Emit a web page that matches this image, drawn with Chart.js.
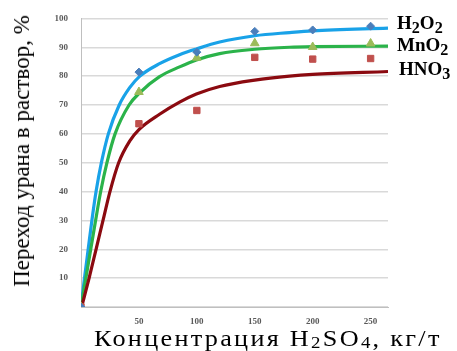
<!DOCTYPE html>
<html>
<head>
<meta charset="utf-8">
<script src="https://cdn.jsdelivr.net/npm/chart.js@4"></script>
<style>
  body { margin: 0; background: #fff; }
  #wrap { position: relative; width: 457px; height: 351px; }
  .lab { position: absolute; font-family: "Liberation Serif", serif; font-weight: bold; font-size: 19px; color: #000; white-space: nowrap; }
  .lab sub { font-size: 0.85em; vertical-align: -0.25em; line-height: 0; }
  #ytitle { position: absolute; left: 22px; top: 151px; transform: translate(-50%, -50%) rotate(-90deg);
    font-family: "Liberation Serif", serif; font-size: 23px; white-space: nowrap; color: #000; }
  #xtitle { position: absolute; left: 94px; top: 326px; font-family: "Liberation Serif", serif; font-size: 23px;
    letter-spacing: 2px; white-space: nowrap; color: #000; transform: scaleX(1.14); transform-origin: left top; }
  #xtitle sub { font-size: 0.72em; vertical-align: -0.1em; line-height: 0; }
</style>
</head>
<body>
<div id="wrap">
  <canvas id="chart" width="457" height="351"></canvas>
  <div id="ytitle">Переход урана в раствор, %</div>
  <div id="xtitle">Концентрация H<sub>2</sub>SO<sub>4</sub>, кг/т</div>
  <div class="lab" style="left:397px;top:12px">H<sub>2</sub>O<sub>2</sub></div>
  <div class="lab" style="left:397px;top:34px">MnO<sub>2</sub></div>
  <div class="lab" style="left:399px;top:58px">HNO<sub>3</sub></div>
</div>
<script>
// measured points
const doseX = [0, 50, 100, 150, 200, 250];
const h2o2 = [0, 81.4, 88.3, 95.5, 96, 97.3];
const mno2 = [0, 74.5, 86.4, 91.4, 90.1, 91.3];
const hno3 = [0, 63.5, 68.1, 86.5, 85.9, 86.1];

// trend curves
const h2o2FitX = [0, 3, 6.2, 9.4, 13, 17.6, 23.6, 33, 42, 50.6, 67.8, 85.1, 99.6, 119.7, 150, 180, 200, 265];
const h2o2FitY = [0, 10, 20, 30, 40, 50, 60, 70, 76, 79.9, 84.3, 87.4, 89.4, 91.8, 94, 95.1, 95.7, 96.6];
const mno2FitX = [0, 4.2, 8.4, 12.6, 17, 22.4, 29.4, 41.5, 50.6, 67.8, 85.1, 99.6, 119.7, 150, 180, 200, 265];
const mno2FitY = [0, 10, 20, 30, 40, 50, 60, 70, 74.2, 79.8, 83.2, 85.6, 87.8, 89.3, 90, 90.2, 90.4];
const hno3FitX = [0.5, 7, 13, 19, 25, 32.5, 42, 50, 67.8, 85.1, 99.6, 119.7, 150, 180, 200, 265];
const hno3FitY = [0, 10, 20, 30, 40, 50, 57.5, 61.5, 66.8, 71, 73.8, 76.4, 78.6, 80, 80.6, 81.6];

const yTicks = [10, 20, 30, 40, 50, 60, 70, 80, 90, 100];
const xTicks = [50, 100, 150, 200, 250];

const toXY = (xs, ys) => xs.map((x, i) => ({ x, y: ys[i] }));

const tickFont = { family: "Liberation Serif", size: 9, weight: "bold" };

function curve(xs, ys, color) {
  return {
    type: "line",
    data: toXY(xs, ys),
    borderColor: color,
    borderWidth: 3.2,
    pointRadius: 0,
    cubicInterpolationMode: "monotone",
    fill: false,
    order: 2,
  };
}

function marks(ys, color, style, r) {
  return {
    type: "scatter",
    data: toXY(doseX, ys),
    backgroundColor: color,
    borderColor: color,
    pointStyle: style,
    pointRadius: r,
    showLine: false,
    order: 1,
  };
}

new Chart(document.getElementById("chart"), {
  data: {
    datasets: [
      marks(h2o2, "#4a7ebb", "rectRot", 4),
      marks(mno2, "#9bbb59", "triangle", 5),
      marks(hno3, "#c0504d", "rect", 4.5),
      curve(hno3FitX, hno3FitY, "#8b0a10"),
      curve(mno2FitX, mno2FitY, "#2bb34a"),
      curve(h2o2FitX, h2o2FitY, "#19a2e8"),
    ],
  },
  options: {
    responsive: false,
    animation: false,
    layout: { padding: { top: 12, right: 69, left: 0, bottom: 0 } },
    plugins: { legend: { display: false }, tooltip: { enabled: false } },
    scales: {
      x: {
        type: "linear",
        min: 0,
        max: 265,
        afterBuildTicks: (s) => { s.ticks = xTicks.map((v) => ({ value: v })); },
        afterFit: (s) => { s.height = 44; },
        ticks: { font: tickFont, color: "#595959", padding: 9, maxRotation: 0 },
        grid: { display: false, drawTicks: false },
        border: { color: "#bfbfbf", width: 1 },
      },
      y: {
        min: 0,
        max: 100,
        afterBuildTicks: (s) => { s.ticks = [0].concat(yTicks).map((v) => ({ value: v })); },
        afterFit: (s) => { s.width = 81; },
        ticks: { font: tickFont, color: "#595959", padding: 13, callback: (v) => (v === 0 ? "" : v) },
        grid: { color: "#d9d9d9", lineWidth: 1.5, drawTicks: false },
        border: { color: "#bfbfbf", width: 1 },
      },
    },
  },
});
</script>
</body>
</html>
